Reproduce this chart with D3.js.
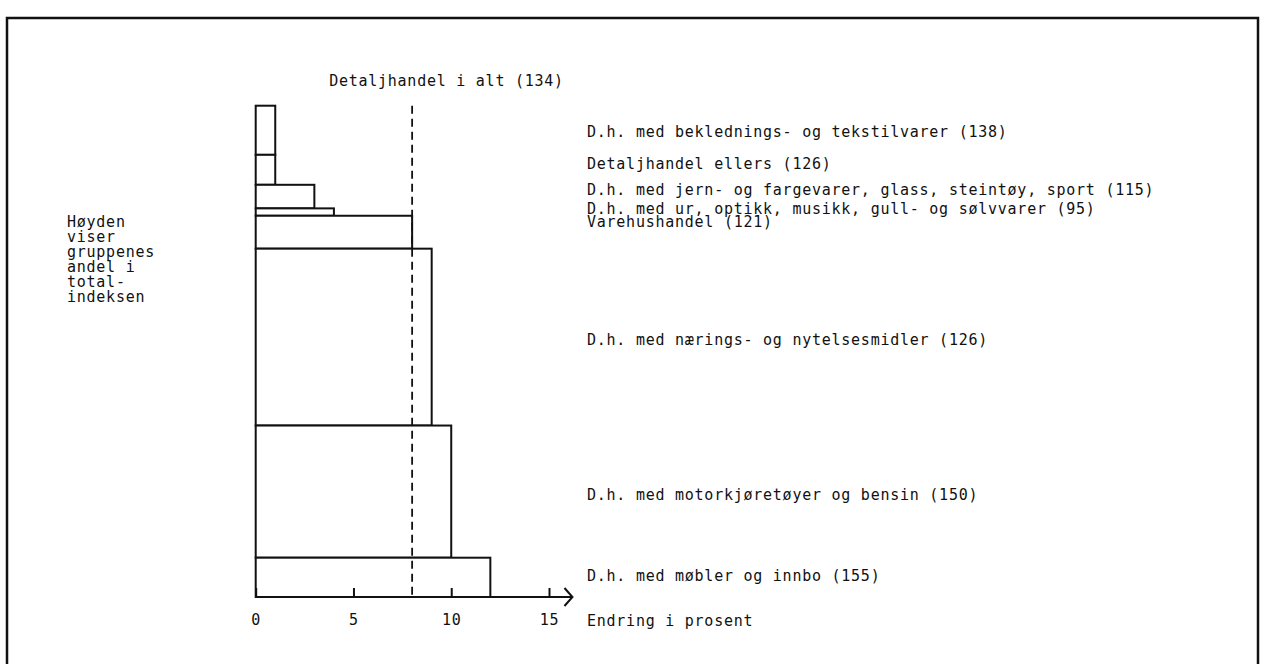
<!DOCTYPE html>
<html><head><meta charset="utf-8">
<script src="https://cdn.jsdelivr.net/npm/d3@7"></script>
<style>
html,body{margin:0;padding:0;background:#fff;}
svg text{font-family:"DejaVu Sans Mono",monospace;font-size:15px;letter-spacing:0.75px;fill:#111;}
</style></head><body>
<svg id="c" width="1261" height="664"></svg>
<script>
// Data
const categories = [
  "D.h. med beklednings- og tekstilvarer (138)",
  "Detaljhandel ellers (126)",
  "D.h. med jern- og fargevarer, glass, steintøy, sport (115)",
  "D.h. med ur, optikk, musikk, gull- og sølvvarer (95)",
  "Varehushandel (121)",
  "D.h. med nærings- og nytelsesmidler (126)",
  "D.h. med motorkjøretøyer og bensin (150)",
  "D.h. med møbler og innbo (155)"
];
const change = [1, 1, 3, 4, 8, 9, 10, 12];          // endring i prosent (bar length)
const share = [10.0, 6.1, 4.8, 1.5, 6.7, 36.0, 26.9, 8.0]; // andel i totalindeksen (bar height)
const totalChange = 8;
const totalLabel = "Detaljhandel i alt (134)";
const xTicks = [0, 5, 10, 15];
const xAxisTitle = "Endring i prosent";
const leftNote = ["Høyden", "viser", "gruppenes", "andel i", "total-", "indeksen"];

// Layout (pixel nudges of labels relative to bar centres)
const labelNudge = [1, -6, -7, -4, -11, 2, 3, -2];

const svg = d3.select("#c");
// frame
svg.append("rect").attr("x", 7).attr("y", 18).attr("width", 1251).attr("height", 700)
  .attr("fill", "none").attr("stroke", "#111").attr("stroke-width", 2.5);

const x = d3.scaleLinear().domain([0, 15]).range([255.7, 549]);
const y = d3.scaleLinear().domain([0, d3.sum(share)]).range([105.7, 597]);

const cum = [];
let acc = 0;
share.forEach(s => { cum.push(acc); acc += s; });

const g = svg.append("g");
g.selectAll("rect.bar").data(change).join("rect").attr("class", "bar")
  .attr("x", x(0))
  .attr("y", (d, i) => y(cum[i]))
  .attr("width", d => x(d) - x(0))
  .attr("height", (d, i) => y(cum[i] + share[i]) - y(cum[i]))
  .attr("fill", "#fff").attr("stroke", "#111").attr("stroke-width", 2);

// dashed total line
g.append("line").attr("x1", x(totalChange)).attr("x2", x(totalChange))
  .attr("y1", y(0)).attr("y2", y(d3.sum(share)))
  .attr("stroke", "#111").attr("stroke-width", 1.8).attr("stroke-dasharray", "8,5");
g.append("text").attr("x", x(totalChange) - 83).attr("y", 86).text(totalLabel);

// axis
const axis = d3.axisBottom(x).tickValues(xTicks).tickSizeInner(-9).tickSizeOuter(0).tickPadding(17);
const yAx = y(d3.sum(share));
const ax = svg.append("g").attr("transform", `translate(0,${yAx})`).call(axis);
ax.select(".domain").remove();
ax.selectAll(".tick line").attr("stroke", "#111").attr("stroke-width", 2);
ax.selectAll(".tick text").attr("font-family", null).attr("font-size", null);
ax.append("line").attr("x1", x(0)).attr("x2", x(16.2)).attr("y1", 0).attr("y2", 0)
  .attr("stroke", "#111").attr("stroke-width", 2);
ax.append("path").attr("d", `M${x(16.2) - 8},-9 L${x(16.2)},0 L${x(16.2) - 8},9`)
  .attr("fill", "none").attr("stroke", "#111").attr("stroke-width", 2);
svg.append("text").attr("x", 587).attr("y", yAx + 29).text(xAxisTitle);

// category labels
svg.selectAll("text.lab").data(categories).join("text").attr("class", "lab")
  .attr("x", 587)
  .attr("y", (d, i) => (y(cum[i]) + y(cum[i] + share[i])) / 2 + 5.5 + labelNudge[i])
  .text(d => d);

// left note
svg.append("text").attr("x", 67).attr("y", 227)
  .selectAll("tspan").data(leftNote).join("tspan")
  .attr("x", 67).attr("dy", (d, i) => i === 0 ? 0 : 15).text(d => d);
</script>
</body></html>
